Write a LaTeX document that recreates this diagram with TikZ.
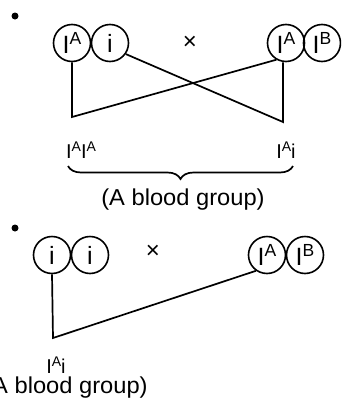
\documentclass[tikz,border=0pt]{standalone}
\usepackage{fontspec}
\setmainfont{Liberation Sans}
\usetikzlibrary{decorations.pathreplacing}
\newcommand\gene[2]{#1\raisebox{0.36em}{\scalebox{0.7}{#2}}}
\begin{document}
\begin{tikzpicture}[x=1pt,y=-1pt,line width=1.7pt,
  allele/.style={circle,draw,line width=1.6pt,minimum size=37pt,inner sep=0pt,font=\fontsize{25}{25}\selectfont},
  geno/.style={inner sep=0pt,font=\fontsize{20}{20}\selectfont},
  grp/.style={inner sep=0pt,font=\fontsize{23}{23}\selectfont},
  cross/.style={inner sep=0pt,font=\fontsize{24}{24}\selectfont},
  bdot/.style={circle,fill,inner sep=0pt,minimum size=7pt},
  link/.style={line width=1.7pt,line join=miter}]
\useasboundingbox (0,0) rectangle (341,410);
\clip (0,0) rectangle (341,410);
% top cross
\node[bdot] (b1) at (15,16) {};
\node[allele] (c1) at (72,43) {\gene{I}{A}};
\node[allele] (c2) at (110,43) {i};
\node[cross] (x1) at (190,43) {×};
\node[allele] (c3) at (286,43) {\gene{I}{A}};
\node[allele] (c4) at (322,43) {\gene{I}{B}};
\coordinate (k1) at (72,117);
\coordinate (k2) at (283,122);
\draw[link] (c1.south) -- (k1) -- (c3.240);
\draw[link] (c2.-35) -- (k2) -- (k2 |- c3.south);
\node[geno] (g1) at (81,150) {\gene{I}{A}\gene{I}{A}};
\node[geno] (g2) at (286,150) {\gene{I}{A}i};
\coordinate (bl) at (68,166);
\coordinate (br) at (293,166);
\draw[decorate,decoration={brace,mirror,amplitude=13pt}] (bl) -- (br);
\node[grp] (t1) at (183,200) {\scalebox{1.03}[1]{(A blood group)}};
% bottom cross
\node[bdot] (b2) at (15,228) {};
\node[allele] (c5) at (52,255) {i};
\node[allele] (c6) at (90,255) {i};
\node[cross] (x2) at (153,252) {×};
\node[allele] (c7) at (267,255) {\gene{I}{A}};
\node[allele] (c8) at (305,255) {\gene{I}{B}};
\coordinate (k3) at (53,338);
\draw[link] (c5.south) -- (k3) -- (c7.235);
\node[geno] (g3) at (56,365) {\gene{I}{A}i};
\node[grp] (t2) at (66,388) {\scalebox{1.03}[1]{(A blood group)}};
\end{tikzpicture}
\end{document}
